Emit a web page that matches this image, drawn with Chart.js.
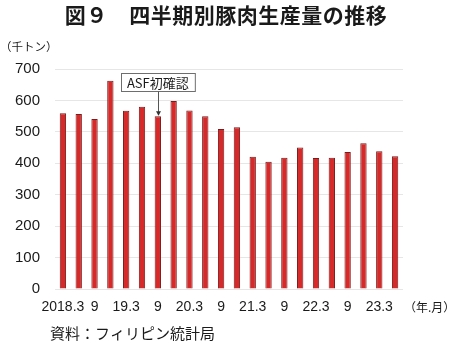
<!DOCTYPE html>
<html lang="ja">
<head>
<meta charset="utf-8">
<script src="https://cdn.jsdelivr.net/npm/chart.js@4/dist/chart.umd.min.js"></script>
<style>
  html, body { margin: 0; padding: 0; background: #ffffff; }
  #wrap { width: 450px; height: 343px; }
</style>
</head>
<body>
<div id="wrap"><canvas id="c" width="450" height="343"></canvas></div>
<script>
// Quarterly pork production in the Philippines (thousand tonnes)
const quarters = [
  "2018.3", "2018.6", "2018.9", "2018.12",
  "2019.3", "2019.6", "2019.9", "2019.12",
  "2020.3", "2020.6", "2020.9", "2020.12",
  "2021.3", "2021.6", "2021.9", "2021.12",
  "2022.3", "2022.6", "2022.9", "2022.12",
  "2023.3", "2023.6"
];
const production = [
  559, 557, 541, 663,
  567, 580, 550, 598,
  568, 550, 509, 515,
  421, 405, 418, 450,
  417, 418, 436, 464,
  438, 422
];
const tickLabels = [
  "2018.3", "", "9", "",
  "19.3", "", "9", "",
  "20.3", "", "9", "",
  "21.3", "", "9", "",
  "22.3", "", "9", "",
  "23.3", ""
];
const yTickValues = [0, 100, 200, 300, 400, 500, 600, 700];
const asfQuarterIndex = 6;
const asfLabel = "ASF初確認";

const titleText = "図９　四半期別豚肉生産量の推移";
const unitText = "（千トン）";
const xUnitText = "（年.月）";
const sourceText = "資料：フィリピン統計局";

const JP = '"Noto Sans CJK JP", "Noto Sans", sans-serif';
const NUM = '"Liberation Sans", Arial, sans-serif';

// Titles, unit labels, source note and the ASF marker
const decorations = {
  id: 'decorations',
  afterDraw(chart) {
    const ctx = chart.ctx;
    const area = chart.chartArea;
    const xs = chart.scales.x;
    const ys = chart.scales.y;
    ctx.save();
    ctx.fillStyle = '#1a1a1a';

    ctx.font = 'bold 21px ' + JP;
    ctx.letterSpacing = '0.5px';
    ctx.textAlign = 'center';
    ctx.textBaseline = 'middle';
    ctx.fillText(titleText, 226, 15);
    ctx.letterSpacing = '0px';

    ctx.font = '11.5px ' + JP;
    ctx.textAlign = 'left';
    ctx.fillText(unitText, 0, 47);

    ctx.font = '12px ' + JP;
    ctx.fillText(xUnitText, area.right + 1, 307);

    ctx.font = '15px ' + JP;
    ctx.fillText(sourceText, 50, 333);

    // ASF first-confirmation callout
    const ax = xs.getPixelForValue(asfQuarterIndex);
    const ay = ys.getPixelForValue(production[asfQuarterIndex]);
    ctx.font = '13px ' + JP;
    const tw = ctx.measureText(asfLabel).width;
    const bw = tw + 12, bh = 18;
    const bx = Math.round(ax - bw / 2) + 0.5, by = 73.5;
    ctx.fillStyle = '#ffffff';
    ctx.fillRect(bx, by, bw, bh);
    ctx.strokeStyle = '#6e6e6e';
    ctx.lineWidth = 1;
    ctx.strokeRect(bx, by, bw, bh);
    ctx.fillStyle = '#1a1a1a';
    ctx.textAlign = 'center';
    ctx.fillText(asfLabel, ax, by + bh / 2 + 0.5);

    const lx = Math.round(ax) + 0.5;
    ctx.strokeStyle = '#555555';
    ctx.beginPath();
    ctx.moveTo(lx, by + bh);
    ctx.lineTo(lx, ay - 3);
    ctx.stroke();
    ctx.fillStyle = '#333333';
    ctx.beginPath();
    ctx.moveTo(lx, ay - 0.5);
    ctx.lineTo(lx - 2.5, ay - 5);
    ctx.lineTo(lx + 2.5, ay - 5);
    ctx.closePath();
    ctx.fill();

    ctx.restore();
  }
};

new Chart(document.getElementById('c'), {
  type: 'bar',
  data: {
    labels: quarters,
    datasets: [{
      data: production,
      backgroundColor: '#d62a2a',
      borderColor: '#7a1c1c',
      borderWidth: 1,
      barPercentage: 0.4,
      categoryPercentage: 1.0
    }]
  },
  options: {
    responsive: false,
    animation: false,
    devicePixelRatio: 1,
    layout: { padding: { top: 69, right: 47, left: 0, bottom: 0 } },
    plugins: {
      legend: { display: false },
      tooltip: { enabled: false },
      title: { display: false }
    },
    scales: {
      x: {
        grid: { display: false, drawTicks: false },
        border: { display: false },
        ticks: {
          autoSkip: false,
          maxRotation: 0,
          minRotation: 0,
          padding: 10,
          color: '#1a1a1a',
          font: { family: NUM, size: 14 },
          callback: (v, i) => tickLabels[i]
        },
        afterFit: (s) => { s.height = 54; }
      },
      y: {
        min: 0,
        max: 700,
        afterBuildTicks: (s) => { s.ticks = yTickValues.map(v => ({ value: v })); },
        grid: { color: '#e6e6e6', drawTicks: false },
        border: { display: false },
        ticks: {
          padding: 15,
          color: '#1a1a1a',
          font: { family: NUM, size: 15 }
        },
        afterFit: (s) => { s.width = 55; }
      }
    }
  },
  plugins: [decorations]
});
</script>
</body>
</html>
